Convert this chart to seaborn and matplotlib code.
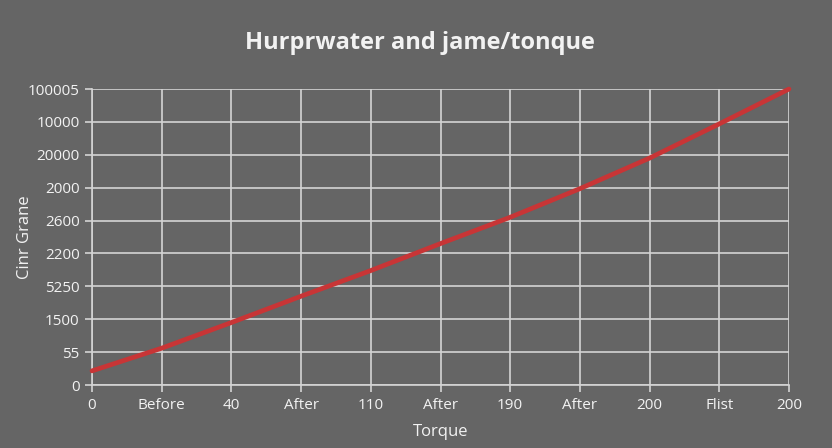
import numpy as np
import pandas as pd
import seaborn as sns
import matplotlib.pyplot as plt

# chart data
x_labels = ['0', 'Before', '40', 'After', '110', 'After', '190', 'After', '200', 'Flist', '200']
y_labels = ['0', '55', '1500', '5250', '2200', '2600', '2000', '20000', '10000', '100005']
line_values = [0.43, 1.12, 1.9, 2.7, 3.48, 4.3, 5.1, 5.97, 6.9, 7.94, 9.0]

bg = '#656565'
fg = '#f2f2f2'
grid_col = '#d4d4d4'

sns.set_theme(style='darkgrid', rc={
    'figure.facecolor': bg,
    'axes.facecolor': bg,
    'grid.color': grid_col,
    'grid.linewidth': 1.2,
    'axes.edgecolor': grid_col,
    'text.color': fg,
    'axes.labelcolor': fg,
    'xtick.color': fg,
    'ytick.color': fg,
})
plt.rcParams['font.family'] = ['Open Sans', 'DejaVu Sans']

df = pd.DataFrame({'pos': np.arange(len(x_labels)), 'val': line_values})

fig = plt.figure(figsize=(8.32, 4.48), dpi=100)
ax = fig.add_axes([0.1106, 0.1406, 0.8377, 0.6607])

sns.lineplot(data=df, x='pos', y='val', ax=ax, color='#c83536', linewidth=3.4, clip_on=False, zorder=5)

ax.set_xlim(0, len(x_labels) - 1)
ax.set_ylim(0, len(y_labels) - 1)
ax.set_xticks(range(len(x_labels)))
ax.set_xticklabels(x_labels, fontsize=11)
ax.set_yticks(range(len(y_labels)))
ax.set_yticklabels(y_labels, fontsize=11)

for s in ['top', 'right']:
    ax.spines[s].set_visible(False)
for s in ['left', 'bottom']:
    ax.spines[s].set_visible(True)
    ax.spines[s].set_color(grid_col)
    ax.spines[s].set_linewidth(1.2)

ax.tick_params(axis='both', which='both', length=5, width=1.2, color=grid_col, pad=4, bottom=True, left=True)

ax.set_xlabel('Torque', fontsize=12, labelpad=8)
ax.set_ylabel('Cinr Grane', fontsize=12)
ax.yaxis.set_label_coords(-0.085, 0.5)

fig.text(0.505, 0.905, 'Hurprwater and jame/tonque', ha='center', va='center', fontsize=17, fontweight='bold', color=fg)

fig.savefig('out.png', dpi=100, facecolor=bg)
